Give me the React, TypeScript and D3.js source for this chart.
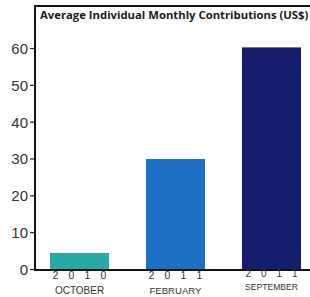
import React from "react";
import * as d3 from "d3";

const months = ["OCTOBER", "FEBRUARY", "SEPTEMBER"];
const years = ["2010", "2011", "2011"];
const values = [4.5, 30, 60.3];
const colors = ["#2ba9a5", "#1c6fc3", "#161d6c"];
const yTicks = [0, 10, 20, 30, 40, 50, 60];
const title = "Average Individual Monthly Contributions (US$)";

export default function App() {
  const W = 310, H = 297;
  const axisX = 35;
  const y = d3.scaleLinear().domain([0, 60]).range([269.5, 48.5]);
  const x = d3.scaleBand<string>().domain(months).range([36, 315]).paddingInner(0.385).paddingOuter(0.146);
  const monthSize = [10, 9.6, 8.6];
  return (
    <svg width={W} height={H} style={{ position: "absolute", left: 0, top: 0, background: "#fff" }}>
      <rect width={W} height={H} fill="#fff" />
      {months.map((m, i) => (
        <rect key={m} x={x(m)} y={y(values[i])} width={x.bandwidth()} height={y(0) - y(values[i])} fill={colors[i]} />
      ))}
      <line x1={axisX} x2={W} y1={6} y2={6} stroke="#111" strokeWidth={2} />
      <text x={40} y={19} fontFamily="'Open Sans', sans-serif" fontWeight={700} fontSize={11.3} fill="#1a1a1a">{title}</text>
      <line x1={axisX} x2={axisX} y1={5} y2={270.5} stroke="#111" strokeWidth={2} />
      <line x1={axisX - 1} x2={W} y1={270} y2={270} stroke="#111" strokeWidth={2} />
      {yTicks.map(t => (
        <g key={t}>
          <line x1={axisX - 5} x2={axisX} y1={y(t)} y2={y(t)} stroke="#222" strokeWidth={1.2} />
          <text x={28} y={y(t)} dy="0.36em" textAnchor="end" fontFamily="'Liberation Sans', Arial, sans-serif" fontSize={15} fill="#333">{t}</text>
        </g>
      ))}
      {months.map((m, i) => {
        const cx = (x(m) as number) + x.bandwidth() / 2;
        const sept = i === 2;
        const digits = years[i].split("");
        const gap = sept ? 15.5 : 16;
        return (
          <g key={m}>
            {digits.map((d, k) => (
              <text key={k} x={cx + (k - 1.5) * gap} y={sept ? 277 : 279} textAnchor="middle" fontFamily="'Liberation Sans', Arial, sans-serif" fontSize={sept ? 10 : 10.5} fill="#333">{d}</text>
            ))}
            <text x={cx} y={sept ? 290 : 294} textAnchor="middle" fontFamily="'Liberation Sans', Arial, sans-serif" fontSize={monthSize[i]} fill="#333">{m}</text>
          </g>
        );
      })}
    </svg>
  );
}
